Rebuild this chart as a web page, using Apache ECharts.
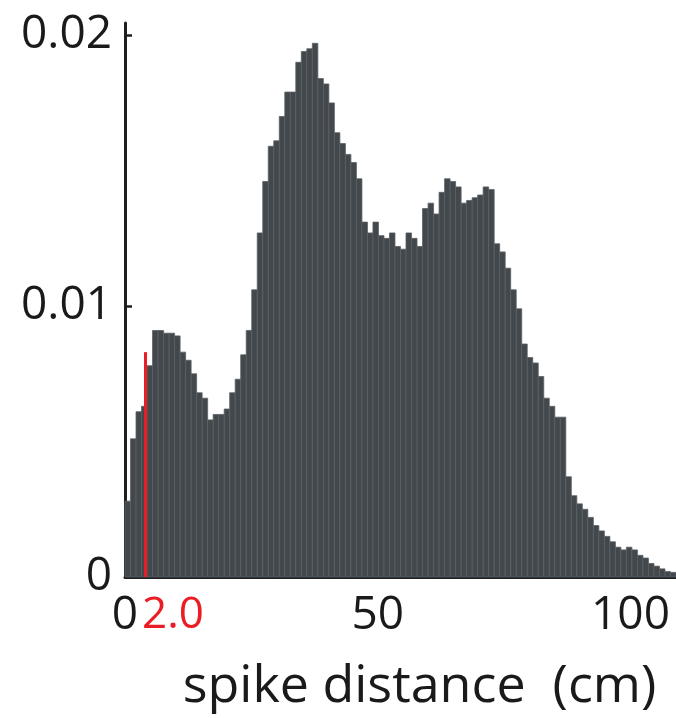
<!DOCTYPE html>
<html>
<head>
<meta charset="utf-8">
<script src="https://cdn.jsdelivr.net/npm/echarts@6/dist/echarts.min.js"></script>
<style>
  html, body { margin: 0; padding: 0; background: #fff; }
  #chart { width: 676px; height: 718px; }
</style>
</head>
<body>
<div id="chart"></div>
<script>
// Histogram of spike distances (probability per bin), bins of equal width from 0 cm
const binWidth = 1.09;
const density = [
  0.0028, 0.0051, 0.0061, 0.0063, 0.0078, 0.0091, 0.0091, 0.0090, 0.0090, 0.0089,
  0.0083, 0.0080, 0.0075, 0.0068, 0.0066, 0.0058, 0.0060, 0.0060, 0.0062, 0.0068,
  0.0073, 0.0082, 0.0091, 0.0106, 0.0127, 0.0146, 0.0159, 0.0161, 0.0170, 0.0179,
  0.0179, 0.0190, 0.0194, 0.0195, 0.0197, 0.0184, 0.0182, 0.0175, 0.0164, 0.0160,
  0.0156, 0.0153, 0.0147, 0.0131, 0.0127, 0.0131, 0.0126, 0.0125, 0.0127, 0.0122,
  0.0121, 0.0127, 0.0125, 0.0122, 0.0136, 0.0138, 0.0134, 0.0142, 0.0147, 0.0146,
  0.0144, 0.0138, 0.0139, 0.0140, 0.0141, 0.0144, 0.0143, 0.0123, 0.0120, 0.0114,
  0.0106, 0.0099, 0.0086, 0.0081, 0.0079, 0.0074, 0.0066, 0.0063, 0.0059, 0.0059,
  0.0037, 0.0030, 0.0027, 0.0025, 0.0022, 0.0019, 0.0017, 0.0015, 0.0013, 0.0011,
  0.0010, 0.0011, 0.0010, 0.0008, 0.0007, 0.0005, 0.0004, 0.0003, 0.0002, 0.00017
];

// Axis ticks
const xTicks = [0, 50, 100];
const yTicks = [0, 0.01, 0.02];
const yTickLabels = ['0', '0.01', '0.02'];

// Threshold marker (red line) and its caption
const thresholdX = 3.95;
const thresholdTop = 0.0083;
const thresholdLabel = '2.0';

const xMax = binWidth * density.length;
const yMax = 0.02045;

const bars = density.map((v, i) => [i * binWidth, (i + 1) * binWidth, v]);

const chart = echarts.init(document.getElementById('chart'), null, { renderer: 'canvas' });
const fontFamily = '"Open Sans", "Noto Sans", sans-serif';

chart.setOption({
  animation: false,
  backgroundColor: '#ffffff',
  grid: { left: 125, right: 0, top: 23, bottom: 135, containLabel: false },
  xAxis: {
    type: 'value',
    min: 0,
    max: xMax,
    interval: 50,
    name: 'spike distance  (cm)',
    nameLocation: 'middle',
    nameGap: 84,
    nameTextStyle: { fontFamily, fontSize: 52, color: '#1a1a1a', padding: [0, 0, 0, 38] },
    axisLine: { show: true, lineStyle: { color: '#1e1e1e', width: 3 } },
    axisTick: { show: false },
    splitLine: { show: false },
    axisLabel: {
      showMaxLabel: false,
      margin: 16,
      fontFamily, fontSize: 46, color: '#1a1a1a',
      formatter: v => (xTicks.includes(Math.round(v)) && Math.abs(v - Math.round(v)) < 1e-6) ? String(Math.round(v)) : ''
    }
  },
  yAxis: {
    type: 'value',
    min: 0,
    max: yMax,
    interval: 0.01,
    axisLine: { show: true, lineStyle: { color: '#1e1e1e', width: 3 } },
    axisTick: { show: true, inside: true, length: 7, lineStyle: { color: '#1e1e1e', width: 2.5 } },
    splitLine: { show: false },
    axisLabel: {
      showMaxLabel: false,
      margin: 13,
      fontFamily, fontSize: 46, color: '#1a1a1a',
      formatter: v => {
        const k = yTicks.findIndex(t => Math.abs(t - v) < 1e-9);
        return k >= 0 ? yTickLabels[k] : '';
      }
    }
  },
  series: [
    {
      type: 'custom',
      data: bars,
      encode: { x: [0, 1], y: 2 },
      renderItem: (params, api) => {
        const top = api.coord([api.value(0), api.value(2)]);
        const base = api.coord([api.value(1), 0]);
        return {
          type: 'rect',
          shape: { x: top[0], y: top[1], width: base[0] - top[0], height: base[1] - top[1] },
          style: { fill: '#42484c', stroke: '#596064', lineWidth: 0.8 }
        };
      },
      z: 1
    },
    {
      type: 'line',
      data: [],
      markLine: {
        silent: true,
        symbol: 'none',
        animation: false,
        lineStyle: { color: '#ec1c24', width: 3, type: 'solid' },
        label: { show: false },
        data: [[{ coord: [thresholdX, 0] }, { coord: [thresholdX, thresholdTop] }]]
      },
      z: 3
    }
  ]
});

// Red caption under the threshold line, anchored to its data position
const anchor = chart.convertToPixel({ gridIndex: 0 }, [thresholdX, 0]);
chart.setOption({
  graphic: [{
    type: 'text',
    left: anchor[0] - 3,
    top: anchor[1] + 16,
    style: { text: thresholdLabel, fontFamily, fontSize: 44, fill: '#ec1c24' }
  }]
});
</script>
</body>
</html>
